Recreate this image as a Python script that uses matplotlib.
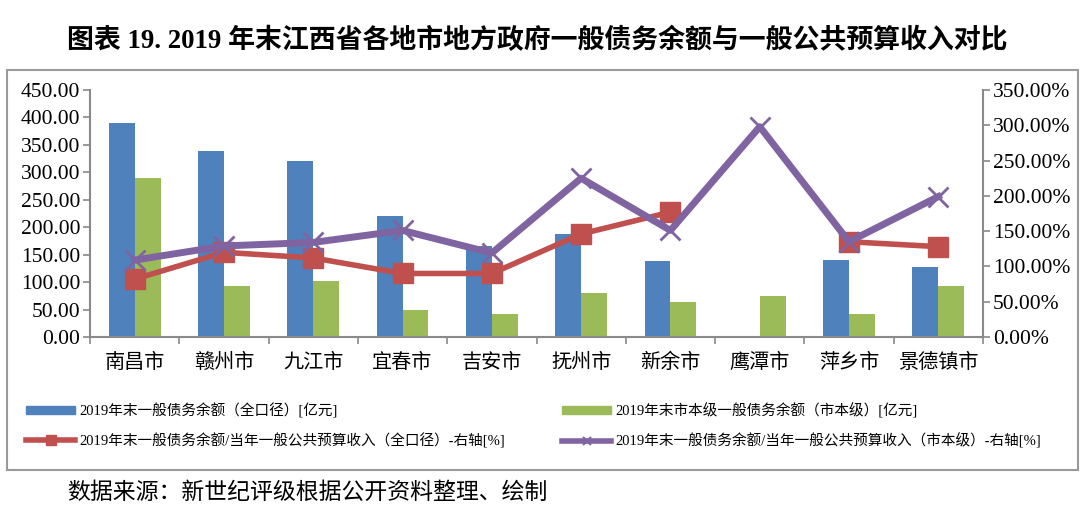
import matplotlib
matplotlib.use("Agg")
import matplotlib.pyplot as plt
from matplotlib.lines import Line2D
from matplotlib.patches import Patch, Rectangle
from matplotlib.ticker import FuncFormatter, MultipleLocator
import numpy as np

plt.rcParams["font.family"] = ["Liberation Serif", "Noto Sans CJK SC"]

cities = ["南昌市", "赣州市", "九江市", "宜春市", "吉安市",
          "抚州市", "新余市", "鹰潭市", "萍乡市", "景德镇市"]
debt_total = [390, 338, 320, 220, 165, 188, 138, 0, 140, 127]
debt_city = [290, 93, 102, 49, 42, 80, 64, 75, 42, 93]
ratio_total = [82, 120, 112, 90, 90, 146, 177, np.nan, 135, 128]
ratio_city = [109, 129, 134, 151, 119, 225, 151, 298, 135, 199]

labels = [
    "2019年末一般债务余额（全口径）[亿元]",
    "2019年末一般债务余额/当年一般公共预算收入（全口径）-右轴[%]",
    "2019年末市本级一般债务余额（市本级）[亿元]",
    "2019年末一般债务余额/当年一般公共预算收入（市本级）-右轴[%]",
]

BLUE, GREEN, RED, PURPLE = "#4F81BD", "#9BBB59", "#C0504D", "#8064A2"
GRAY = "#898989"

W, H = 1080, 513
fig = plt.figure(figsize=(W / 100, H / 100), dpi=100)

# outer chart frame
fig.patches.append(Rectangle((7 / W, 1 - 470 / H), 1071 / W, 400 / H,
                             transform=fig.transFigure, fill=False,
                             edgecolor="#9a9a9a", linewidth=1.5))

ax = fig.add_axes([90 / W, 1 - 337 / H, 893 / W, 247 / H])
x = np.arange(len(cities))
bw = 0.29
ax.bar(x - bw / 2, debt_total, bw, color=BLUE, zorder=2)
ax.bar(x + bw / 2, debt_city, bw, color=GREEN, zorder=2)
ax.set_xlim(-0.5, len(cities) - 0.5)
ax.set_ylim(0, 450)
ax.yaxis.set_major_locator(MultipleLocator(50))
ax.yaxis.set_major_formatter(FuncFormatter(lambda v, p: f"{v:.2f}"))
ax.set_xticks(x)
ax.set_xticklabels(cities, fontsize=14.5)
ax.set_xticks(np.arange(-0.5, len(cities)), minor=True)
ax.tick_params(axis="x", which="major", length=0, pad=12)
ax.tick_params(axis="x", which="minor", length=5, color=GRAY, width=1.2)
ax.tick_params(axis="y", length=5, color=GRAY, width=1.2, labelsize=15.5, pad=2)
for s in ["top", "right"]:
    ax.spines[s].set_visible(False)
for s in ["left", "bottom"]:
    ax.spines[s].set_color(GRAY)
    ax.spines[s].set_linewidth(1.5)

ax2 = ax.twinx()
ax2.plot(x, ratio_total, color=RED, lw=4, marker="s", ms=15, zorder=3)
ax2.plot(x, ratio_city, color=PURPLE, lw=5, marker="x", ms=14, mew=2, zorder=4)
ax2.set_ylim(0, 350)
ax2.yaxis.set_major_locator(MultipleLocator(50))
ax2.yaxis.set_major_formatter(FuncFormatter(lambda v, p: f"{v:.2f}%" if v else "0.00%"))
ax2.tick_params(axis="y", length=5, color=GRAY, width=1.2, labelsize=15.5, pad=2)
for s in ["top", "left", "bottom"]:
    ax2.spines[s].set_visible(False)
ax2.spines["right"].set_color(GRAY)
ax2.spines["right"].set_linewidth(1.5)

h_blue = Patch(color=BLUE)
h_green = Patch(color=GREEN)
h_red = Line2D([], [], color=RED, lw=4, marker="s", ms=7)
h_purple = Line2D([], [], color=PURPLE, lw=4, marker="x", ms=6, mew=1.5)

leg_kw = dict(frameon=False, fontsize=10.5, handlelength=3.4, handleheight=0.5,
              handletextpad=0.3, labelspacing=1.0, borderaxespad=0)
leg1 = fig.legend([h_blue, h_red], labels[:2], loc="upper left",
                  bbox_to_anchor=(20 / W, 1 - 397 / H), **leg_kw)
leg2 = fig.legend([h_green, h_purple], labels[2:], loc="upper left",
                  bbox_to_anchor=(556 / W, 1 - 397 / H), **leg_kw)

fig.text(67 / W, 1 - 41 / H,
         "图表 19. 2019 年末江西省各地市地方政府一般债务余额与一般公共预算收入对比",
         fontsize=19.4, fontweight="bold", va="center", ha="left")
fig.text(67 / W, 1 - 493 / H, "数据来源：新世纪评级根据公开资料整理、绘制",
         fontsize=16.5, va="center", ha="left")

fig.savefig("out.png", dpi=100)
